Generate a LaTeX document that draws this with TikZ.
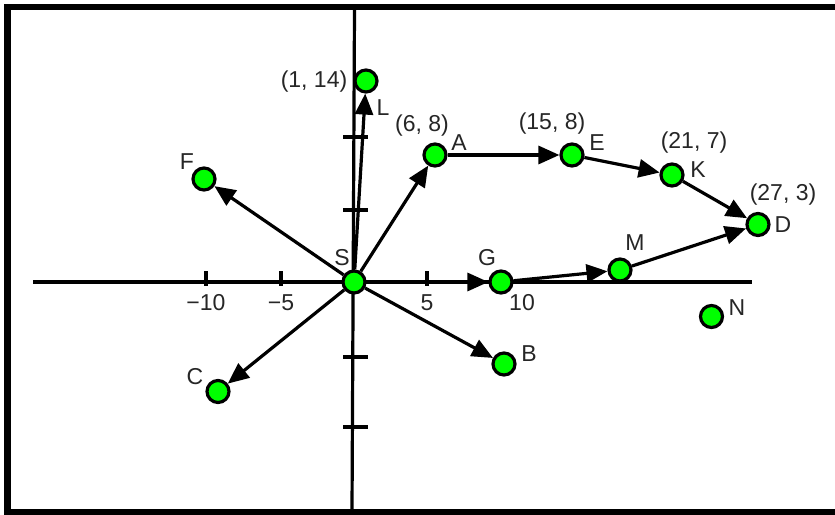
\documentclass[tikz,border=0pt]{standalone}
\usepackage{fontspec}
\setmainfont{Liberation Sans}
\usetikzlibrary{arrows.meta}
\begin{document}
\begin{tikzpicture}[x=1pt,y=-1pt,
  pt/.style={circle,draw=black,fill=green,line width=3.2pt,minimum size=22pt,inner sep=0pt},
  lbl/.style={font=\fontsize{23}{26}\selectfont,text=black!85,inner sep=0pt},
  arr/.style={line width=3.2pt,-{Triangle[length=21pt,width=18pt]}},
  ax/.style={line width=3.2pt},
  tk/.style={line width=3.2pt}]
\useasboundingbox (0,0) rectangle (835,514);
\clip (0,0) rectangle (835,514);
\fill[white] (0,0) rectangle (835,514);
% frame
\draw[line width=6.5pt] (7.5,7) rectangle (838,512);
% axes
\coordinate (xl) at (33,282);
\coordinate (xr) at (752,282);
\coordinate (yt) at (354.5,10);
\coordinate (yb) at (352,510);
\draw[ax] (xl) -- (xr);
\draw[ax] (yt) -- (yb);
% ticks x
\foreach \x/\n in {206/a,281/b,427/c}{
  \coordinate (tx\n1) at (\x,271);
  \coordinate (tx\n2) at (\x,286);
  \draw[tk] (tx\n1) -- (tx\n2);
}
% ticks y
\foreach \y/\n in {137/a,210/b,357/c,427/d}{
  \coordinate (ty\n1) at (343,\y);
  \coordinate (ty\n2) at (368,\y);
  \draw[tk] (ty\n1) -- (ty\n2);
}
% tick labels
\node[lbl] (tm10) at (206,303) {−10};
\node[lbl] (tm5) at (281,303) {−5};
\node[lbl] (tp5) at (427,303) {5};
\node[lbl] (tp10) at (522,303) {10};
% nodes
\node[pt] (S) at (354,282) {};
\node[pt] (L) at (366,81) {};
\node[pt] (F) at (204,179) {};
\node[pt] (A) at (435,155) {};
\node[pt] (E) at (572,155) {};
\node[pt] (K) at (672,175) {};
\node[pt] (D) at (758,224.5) {};
\node[pt] (G) at (501,282) {};
\node[pt] (M) at (620,270) {};
\node[pt] (N) at (711.5,316.5) {};
\node[pt] (B) at (504,364) {};
\node[pt] (C) at (218,391.5) {};
% labels
\node[lbl] (lS) at (342,258) {S};
\node[lbl] (lL) at (383,108) {L};
\node[lbl] (cL) at (314,82) {(1, 14)};
\node[lbl] (lF) at (187,162) {F};
\node[lbl] (lA) at (459,143) {A};
\node[lbl] (cA) at (422,126) {(6, 8)};
\node[lbl] (lE) at (597,143) {E};
\node[lbl] (cE) at (552,124) {(15, 8)};
\node[lbl] (lK) at (698,170) {K};
\node[lbl] (cK) at (694,143) {(21, 7)};
\node[lbl] (lD) at (783,225) {D};
\node[lbl] (cD) at (783,195) {(27, 3)};
\node[lbl] (lG) at (487,258) {G};
\node[lbl] (lM) at (635,243) {M};
\node[lbl] (lN) at (737,308) {N};
\node[lbl] (lB) at (529,354) {B};
\node[lbl] (lC) at (195,377) {C};
% arrows
\draw[arr] (S) -- (L);
\draw[arr] (S) -- (F);
\draw[arr] (S) -- (A);
\draw[arr] (S) -- (G);
\draw[arr] (S) -- (B);
\draw[arr] (S) -- (C);
\draw[arr] (A) -- (E);
\draw[arr] (E) -- (K);
\draw[arr] (K) -- (D);
\draw[arr] (G) -- (M);
\draw[arr] (M) -- (D);
\end{tikzpicture}
\end{document}
